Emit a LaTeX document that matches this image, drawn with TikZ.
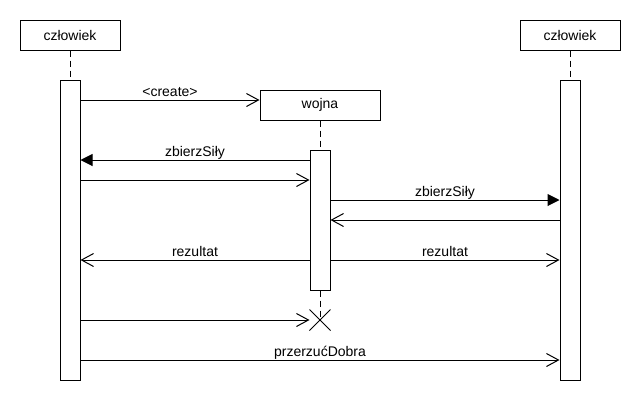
\documentclass[tikz,border=0pt]{standalone}
\usepackage{fontspec}
\setmainfont{Liberation Sans}
\usepackage{tikz}
\usetikzlibrary{%
  arrows.meta,%
  shapes.misc
}
\tikzset{
  glowa/.style={draw,line width=1pt,minimum width=100pt,minimum height=30pt,inner sep=0pt},
  aktyw/.style={draw,fill=white,line width=1pt,minimum width=20pt,inner sep=0pt},
  linia/.style={line width=1pt,dash pattern=on 6pt off 4pt},
  wyw/.style={line width=1pt,-{Triangle[length=12pt,width=12pt]}},
  odp/.style={line width=1pt,-{Straight Barb[length=12pt,width=13pt,line width=1pt]}},
  opis/.style={midway,anchor=base,yshift=4pt,inner sep=0pt}
}

\begin{document}
\begin{tikzpicture}[x=1pt,y=-1pt,font=\fontsize{14}{16}\selectfont]
    \useasboundingbox (0,0) rectangle (640,400);
    % obiekty
    \node [glowa] (czlA) at (70,35) {człowiek};
    \node [glowa] (czlB) at (570,35) {człowiek};
    \node [glowa,minimum width=120pt] (wojna) at (320,105) {wojna};
    \node [cross out,draw,line width=1pt,minimum size=20pt,inner sep=0pt] (koniec) at (320,320) {};
    % linie zycia
    \draw [linia] (czlA.south) -- (70,80);
    \draw [linia] (czlB.south) -- (570,80);
    \draw [linia] (wojna.south) -- (koniec.center);
    \node [aktyw,minimum height=300pt] (aktA) at (70,230) {};
    \node [aktyw,minimum height=300pt] (aktB) at (570,230) {};
    \node [aktyw,minimum height=140pt] (aktW) at (320,220) {};
    % komunikaty
    \draw [odp] (aktA.east |- 0,100) -- (wojna.west |- 0,100) node [opis] {<create>};
    \draw [wyw] (aktW.west |- 0,160) -- (aktA.east |- 0,160) node [opis] {zbierzSiły};
    \draw [odp] (aktA.east |- 0,180) -- (aktW.west |- 0,180);
    \draw [wyw] (aktW.east |- 0,200) -- (aktB.west |- 0,200) node [opis] {zbierzSiły};
    \draw [odp] (aktB.west |- 0,220) -- (aktW.east |- 0,220);
    \draw [odp] (aktW.west |- 0,260) -- (aktA.east |- 0,260) node [opis] {rezultat};
    \draw [odp] (aktW.east |- 0,260) -- (aktB.west |- 0,260) node [opis] {rezultat};
    \draw [odp] (aktA.east |- 0,320) -- (koniec.west);
    \draw [odp] (aktA.east |- 0,360) -- (aktB.west |- 0,360) node [opis] {przerzućDobra};
  \end{tikzpicture}
\end{document}
